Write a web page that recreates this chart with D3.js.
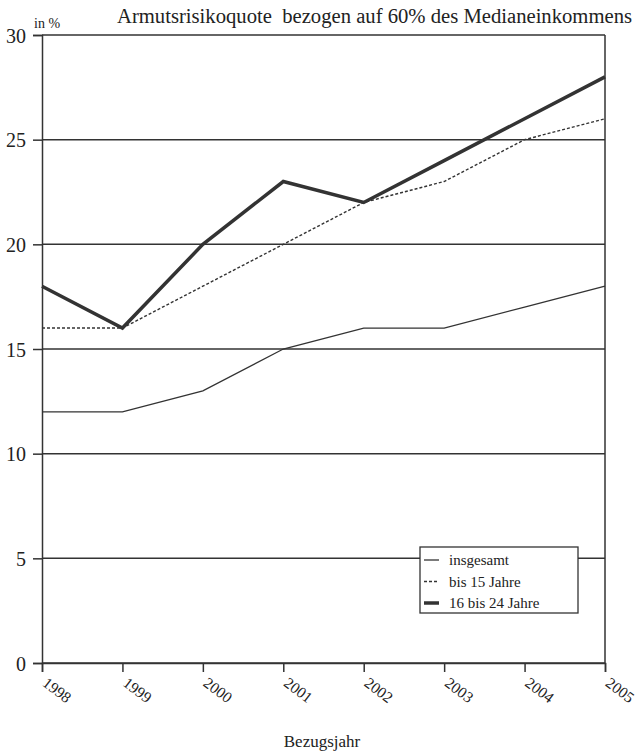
<!DOCTYPE html>
<html><head><meta charset="utf-8">
<script src="https://cdn.jsdelivr.net/npm/d3@7"></script>
<style>body{margin:0;background:#fff}svg text{font-family:"Liberation Serif",serif;fill:#222}</style>
</head><body><svg id="c" width="636" height="752"></svg>
<script>
const years = [1998,1999,2000,2001,2002,2003,2004,2005];
const insgesamt = [12,12,13,15,16,16,17,18];
const bis15 = [16,16,18,20,22,23,25,26];
const j16bis24 = [18,16,20,23,22,24,26,28];
const yTicks = [0,5,10,15,20,25,30];
const seriesNames = ["insgesamt","bis 15 Jahre","16 bis 24 Jahre"];

const svg = d3.select("#c");
const x = d3.scaleLinear().domain([1998,2005]).range([42,605]);
const y = d3.scaleLinear().domain([0,30]).range([663,35]);
const ink = "#333";
const F = "Liberation Serif";

svg.append("g").selectAll("line").data(yTicks).join("line")
  .attr("x1",x(1998)).attr("x2",x(2005)).attr("y1",d=>y(d)).attr("y2",d=>y(d))
  .attr("stroke",ink).attr("stroke-width",1.5);
svg.append("line").attr("x1",x(2005)).attr("x2",x(2005)).attr("y1",y(30)).attr("y2",y(0)).attr("stroke",ink).attr("stroke-width",1.5);

const ya = svg.append("g").attr("transform",`translate(${x(1998)},0)`)
  .call(d3.axisLeft(y).tickValues(yTicks).tickSize(9).tickPadding(7));
ya.attr("font-family",F);
ya.select(".domain").attr("stroke",ink).attr("stroke-width",1.5);
ya.selectAll(".tick line").attr("stroke",ink).attr("stroke-width",1.5);
ya.selectAll(".tick text").attr("font-size",20).attr("fill","#222").attr("dy","0.36em");

const xa = svg.append("g").attr("transform",`translate(0,${y(0)})`)
  .call(d3.axisBottom(x).tickValues(years).tickFormat(d3.format("d")).tickSize(9));
xa.attr("font-family",F);
xa.select(".domain").attr("stroke",ink).attr("stroke-width",1.5);
xa.selectAll(".tick line").attr("stroke",ink).attr("stroke-width",1.5);
xa.selectAll(".tick text").attr("font-size",15.5).attr("fill","#222")
  .attr("text-anchor","start").attr("dy",null).attr("y",0)
  .attr("transform","translate(-1,22) rotate(37)");

const line = d3.line().x((d,i)=>x(years[i])).y(d=>y(d));
svg.append("path").datum(insgesamt).attr("d",line).attr("fill","none").attr("stroke",ink).attr("stroke-width",1.3);
svg.append("path").datum(bis15).attr("d",line).attr("fill","none").attr("stroke",ink).attr("stroke-width",1.4).attr("stroke-dasharray","3,2");
svg.append("path").datum(j16bis24).attr("d",line).attr("fill","none").attr("stroke",ink).attr("stroke-width",3.5);

svg.append("text").attr("x",117).attr("y",23).attr("font-size",20.5).style("white-space","pre")
  .attr("textLength",515).attr("lengthAdjust","spacingAndGlyphs")
  .text("Armutsrisikoquote  bezogen auf 60% des Medianeinkommens");
svg.append("text").attr("x",34).attr("y",28).attr("font-size",14).text("in %");
svg.append("text").attr("x",322).attr("y",747).attr("font-size",17).attr("text-anchor","middle").text("Bezugsjahr");

const lg = svg.append("g").attr("transform","translate(420,547)");
lg.append("rect").attr("width",158).attr("height",66).attr("fill","#fff").attr("stroke",ink).attr("stroke-width",1.3);
const styles = [{w:1.3,d:null},{w:1.4,d:"3,2"},{w:3.5,d:null}];
seriesNames.forEach((n,i)=>{
  const yy = 13 + i*21.5;
  lg.append("line").attr("x1",4).attr("x2",19).attr("y1",yy).attr("y2",yy)
    .attr("stroke",ink).attr("stroke-width",styles[i].w).attr("stroke-dasharray",styles[i].d);
  lg.append("text").attr("x",29).attr("y",yy+5).attr("font-size",15).text(n);
});
</script></body></html>
